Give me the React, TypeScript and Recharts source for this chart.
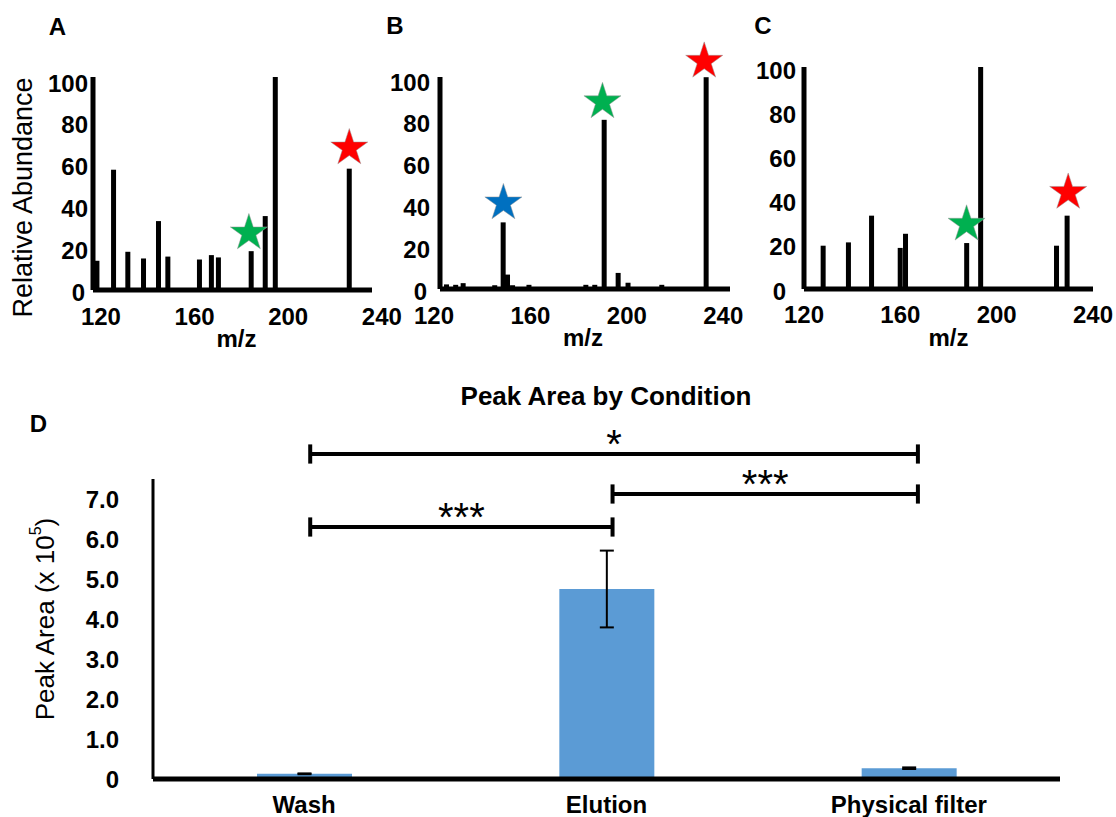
import { BarChart, Bar, XAxis, YAxis, ReferenceDot, ReferenceLine, ErrorBar } from 'recharts'

const FONT = '"Liberation Sans", Arial, sans-serif'
const GREEN = '#00B050'
const RED = '#FF0000'
const BLUE = '#0070C0'
const BAR_BLUE = '#5B9BD5'

// panel A spectrum
const aMz = [118.2, 125.3, 131.4, 138.1, 144.5, 148.5, 162.0, 167.1, 170.1, 184.1, 190.1, 194.4, 226.0]
const aAbundance = [14, 57.6, 18.3, 15.1, 33, 16, 14.6, 16.7, 15.6, 18.6, 35.4, 102, 58.1]
const aStarMz = [183.2, 226.1]
const aStarAbundance = [27.3, 68]

// panel B spectrum
const bMz = [125.3, 129.1, 132.2, 145.3, 148.8, 150.6, 152.7, 159.5, 183.1, 186.8, 190.7, 196.5, 200.6, 214.6, 233.0]
const bAbundance = [2.2, 2, 2.8, 1.8, 31.9, 6.9, 1.8, 2, 2, 2, 81, 7.7, 3, 2, 101.4]
const bStarMz = [148.8, 189.9, 232.1]
const bStarAbundance = [41.2, 89.6, 109]

// panel C spectrum
const cMz = [128.0, 138.5, 148.1, 160.0, 162.2, 187.6, 193.4, 224.9, 229.3]
const cAbundance = [19.6, 21.1, 33.2, 18.6, 25, 20.8, 100.5, 19.6, 33.2]
const cStarMz = [187.5, 229.7]
const cStarAbundance = [29.3, 43.7]

const mzTicks = [120, 160, 200, 240]
const abundanceTicks = [0, 20, 40, 60, 80, 100]

// panel D
const conditions = ['Wash', 'Elution', 'Physical filter']
const peakArea = [0.13, 4.75, 0.27]
const peakAreaErr = [0.01, 0.96, 0.02]
const areaTicks = [0, 1, 2, 3, 4, 5, 6, 7]

// significance brackets (x in category units, 0..3)
const bracketFrom = [0.52, 1.52, 0.52]
const bracketTo = [1.52, 2.53, 2.53]
const bracketLevel = [6.3, 7.125, 8.125]
const bracketLabel = ['***', '***', '*']

const tickStyle = { fill: '#000', fontSize: 24, fontWeight: 'bold', fontFamily: FONT }
const SPEC_H = 360

const Stick = (props: any) => {
  const { x, y, width, height } = props
  if (height == null || height <= 0) return null
  const cx = x + width / 2
  return <rect x={cx - 2.5} y={y} width={5} height={height} fill="#000" />
}

const Star = (props: any) => {
  const { cx, cy, r, fill } = props
  const pts: string[] = []
  for (let i = 0; i < 10; i++) {
    const ang = -Math.PI / 2 + (i * Math.PI) / 5
    const rad = i % 2 === 0 ? r : r * 0.382
    pts.push(`${cx + rad * Math.cos(ang)},${cy + rad * Math.sin(ang)}`)
  }
  return <polygon points={pts.join(' ')} fill={fill} stroke="#999" strokeWidth={0.5} />
}

// y tick where the "0" label sits a little left of the others, as in the source figure
const abundanceTick = (zeroShift: number) => (props: any) => {
  const { x, y, payload } = props
  const shift = payload.value === 0 ? zeroShift : 0
  return (
    <text x={x - shift} y={y + 2} dy="0.355em" textAnchor="end" fill="#000" fontSize={24}
      fontWeight="bold" fontFamily={FONT}>{payload.value}</text>
  )
}

type SpecProps = {
  mz: number[]
  abundance: number[]
  starMz: number[]
  starAbundance: number[]
  starColors: string[]
  left: number
  width: number
  axisWidth: number
  marginRight: number
  marginTop: number
  baseline: number
  xDomain: [number, number]
  yDomain: [number, number]
  yTickMargin: number
  xTickMargin: number
  zeroShift: number
  titleDx: number
  yTitle?: boolean
}

function Spectrum(p: SpecProps) {
  const data = p.mz.map((m, i) => ({ mz: m, abundance: p.abundance[i] }))
  return (
    <div style={{ position: 'absolute', left: p.left, top: 0 }}>
      <BarChart width={p.width} height={SPEC_H} data={data}
        margin={{ top: p.marginTop, right: p.marginRight, bottom: 0, left: 0 }}>
        <XAxis type="number" dataKey="mz" domain={p.xDomain} ticks={mzTicks} interval={0}
          allowDataOverflow height={SPEC_H - p.baseline} tickLine={false} tickSize={0}
          tickMargin={p.xTickMargin} axisLine={{ stroke: '#000', strokeWidth: 5 }} tick={tickStyle}
          label={(lp: any) => {
            const { x, y, width } = lp.viewBox
            return (
              <text x={x + width / 2 + p.titleDx} y={y + 57} textAnchor="middle" fontSize={24}
                fontWeight="bold" fontFamily={FONT} fill="#000">m/z</text>
            )
          }} />
        <YAxis type="number" domain={p.yDomain} ticks={abundanceTicks} interval={0} allowDataOverflow
          width={p.axisWidth} tickLine={false} tickSize={0} tickMargin={p.yTickMargin}
          axisLine={{ stroke: '#000', strokeWidth: 5 }} tick={abundanceTick(p.zeroShift)}
          label={p.yTitle ? (lp: any) => {
            const { x, y, height } = lp.viewBox
            const cy = y + height / 2 + 14
            return (
              <text transform={`translate(${x + 23}, ${cy}) rotate(-90)`} textAnchor="middle"
                dominantBaseline="central" fontSize={27} fontFamily={FONT} fill="#000">
                Relative Abundance
              </text>
            )
          } : undefined} />
        <Bar dataKey="abundance" shape={Stick} isAnimationActive={false} />
        {p.starMz.map((m, i) => (
          <ReferenceDot key={i} x={m} y={p.starAbundance[i]} r={19.5} fill={p.starColors[i]}
            ifOverflow="visible" shape={Star} />
        ))}
      </BarChart>
    </div>
  )
}

const BracketLabel = (text: string) => (lp: any) => {
  const { x, y, width } = lp.viewBox
  return (
    <text x={x + width / 2} y={y + 4} textAnchor="middle" fontSize={40}
      fontFamily={FONT} fill="#000">{text}</text>
  )
}

function PeakAreaChart() {
  const data = conditions.map((c, i) => ({ condition: c, pos: i + 0.5, area: peakArea[i], err: peakAreaErr[i] }))
  return (
    <div style={{ position: 'absolute', left: 0, top: 380 }}>
      <BarChart width={1116} height={437} data={data} margin={{ top: 99, right: 56, bottom: 0, left: 0 }}>
        <XAxis dataKey="condition" height={38} tickLine={false} tickSize={0} tickMargin={17} interval={0}
          axisLine={{ stroke: '#000', strokeWidth: 5 }} tick={tickStyle} />
        <XAxis xAxisId="ann" dataKey="pos" type="number" domain={[0, 3]} allowDataOverflow hide />
        <YAxis type="number" domain={[0, 7.5]} ticks={areaTicks} interval={0} width={153}
          tickLine={false} tickSize={0} tickMargin={34} axisLine={{ stroke: '#000', strokeWidth: 3 }}
          tick={tickStyle} tickFormatter={(v: number) => (v === 0 ? '0' : v.toFixed(1))}
          label={(lp: any) => {
            const { x, y, height } = lp.viewBox
            const cy = y + height / 2 - 10
            return (
              <text transform={`translate(${x + 45}, ${cy}) rotate(-90)`} textAnchor="middle"
                dominantBaseline="central" fontSize={26} fontFamily={FONT} fill="#000">
                Peak Area (x 10<tspan fontSize={16} dy={-10}>5</tspan><tspan dy={10}>)</tspan>
              </text>
            )
          }} />
        <Bar dataKey="area" fill={BAR_BLUE} barSize={95} isAnimationActive={false}>
          <ErrorBar dataKey="err" direction="y" width={7} stroke="#000" strokeWidth={2} />
        </Bar>
        {bracketFrom.map((f, i) => {
          const t = bracketTo[i]
          const y = bracketLevel[i]
          return [
            <ReferenceLine key={`h${i}`} xAxisId="ann" segment={[{ x: f, y }, { x: t, y }]}
              stroke="#000" strokeWidth={4} ifOverflow="visible" label={BracketLabel(bracketLabel[i])} />,
            <ReferenceLine key={`l${i}`} xAxisId="ann" segment={[{ x: f, y: y - 0.24 }, { x: f, y: y + 0.24 }]}
              stroke="#000" strokeWidth={4} ifOverflow="visible" />,
            <ReferenceLine key={`r${i}`} xAxisId="ann" segment={[{ x: t, y: y - 0.24 }, { x: t, y: y + 0.24 }]}
              stroke="#000" strokeWidth={4} ifOverflow="visible" />,
          ]
        })}
      </BarChart>
    </div>
  )
}

const letter = (text: string, cx: number, cy: number) => (
  <div style={{
    position: 'absolute', left: cx - 20, top: cy - 14, width: 40, textAlign: 'center',
    fontSize: 24, lineHeight: '28px', fontWeight: 'bold', fontFamily: FONT, color: '#000',
  }}>{text}</div>
)

export default function App() {
  return (
    <div style={{ position: 'absolute', left: 0, top: 0, width: 1116, height: 817, background: '#fff', fontFamily: FONT }}>
      <Spectrum mz={aMz} abundance={aAbundance} starMz={aStarMz} starAbundance={aStarAbundance}
        starColors={[GREEN, RED]} left={0} width={420} axisWidth={93} marginRight={48} marginTop={77}
        baseline={290} xDomain={[116.6, 235.8]} yDomain={[0, 102]} yTickMargin={5} xTickMargin={18}
        zeroShift={3} titleDx={4} yTitle />
      <Spectrum mz={bMz} abundance={bAbundance} starMz={bStarMz} starAbundance={bStarAbundance}
        starColors={[BLUE, GREEN, RED]} left={380} width={370} axisWidth={60} marginRight={20} marginTop={77}
        baseline={289} xDomain={[122.5, 242.8]} yDomain={[0, 101.5]} yTickMargin={10} xTickMargin={18}
        zeroShift={3} titleDx={-2} />
      <Spectrum mz={cMz} abundance={cAbundance} starMz={cStarMz} starAbundance={cStarAbundance}
        starColors={[GREEN, RED]} left={750} width={366} axisWidth={54} marginRight={23} marginTop={67}
        baseline={289} xDomain={[120, 240]} yDomain={[0, 100.5]} yTickMargin={8} xTickMargin={17}
        zeroShift={10} titleDx={0} />
      {letter('A', 57.5, 26.5)}
      {letter('B', 395, 26)}
      {letter('C', 763, 26)}
      {letter('D', 38.5, 424)}
      <div style={{
        position: 'absolute', left: 406, top: 383, width: 400, textAlign: 'center', fontSize: 26,
        lineHeight: '26px', fontWeight: 'bold', fontFamily: FONT, color: '#000',
      }}>Peak Area by Condition</div>
      <PeakAreaChart />
    </div>
  )
}
